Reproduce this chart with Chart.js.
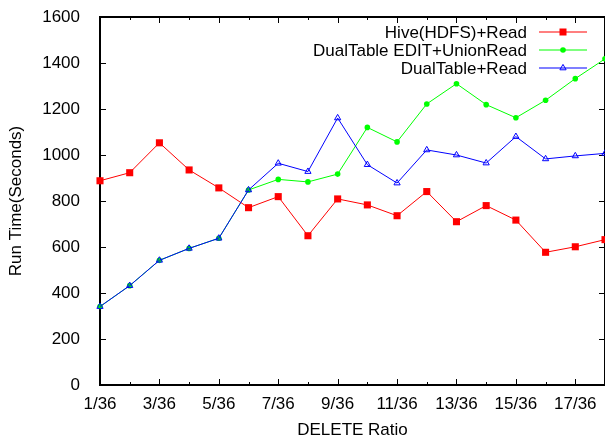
<!DOCTYPE html>
<html>
<head>
<meta charset="utf-8">
<script src="https://cdn.jsdelivr.net/npm/chart.js@4.4.1/dist/chart.umd.min.js"></script>
<style>
  html, body { margin: 0; padding: 0; background: #fff; overflow: hidden; }
  #wrap { width: 610px; height: 439px; }
</style>
</head>
<body>
<div id="wrap"><canvas id="chart" width="610" height="439"></canvas></div>
<script>
// data
const ratios = ['1/36', '2/36', '3/36', '4/36', '5/36', '6/36', '7/36', '8/36', '9/36',
                '10/36', '11/36', '12/36', '13/36', '14/36', '15/36', '16/36', '17/36', '18/36'];
const hiveRead = [888, 923, 1053, 935, 857, 771, 819, 649, 809, 783, 736, 841, 710, 780, 717, 577, 601, 632];
const editUnionRead = [341, 432, 542, 594, 638, 848, 894, 883, 917, 1120, 1057, 1222, 1310, 1219, 1162, 1238, 1332, 1418];
const dualTableRead = [341, 432, 542, 594, 638, 848, 964, 928, 1161, 958, 878, 1022, 1000, 965, 1080, 983, 996, 1007];
const seriesNames = ['Hive(HDFS)+Read', 'DualTable EDIT+UnionRead', 'DualTable+Read'];

const FONT = 'Liberation Sans, Arial, Helvetica, sans-serif';

// frame + inward ticks like gnuplot
const framePlugin = {
    id: 'frame',
    beforeDatasetsDraw(chart) {
        const { ctx, chartArea: a, scales } = chart;
        ctx.save();
        ctx.strokeStyle = '#000';
        ctx.lineWidth = 1;
        ctx.beginPath();
        scales.y.ticks.forEach(t => {
            const y = Math.round(scales.y.getPixelForValue(t.value)) + 0.5;
            ctx.moveTo(a.left, y); ctx.lineTo(a.left + 6, y);
            ctx.moveTo(a.right, y); ctx.lineTo(a.right - 6, y);
        });
        ratios.forEach((r, i) => {
            const x = Math.round(scales.x.getPixelForValue(i)) + 0.5;
            const len = i % 2 === 0 ? 6 : 3;
            ctx.moveTo(x, a.bottom); ctx.lineTo(x, a.bottom - len);
            ctx.moveTo(x, a.top); ctx.lineTo(x, a.top + len);
        });
        ctx.stroke();
        ctx.lineWidth = 2;
        ctx.strokeRect(a.left, a.top, a.right - a.left, a.bottom - a.top);
        ctx.restore();
    }
};

function drawMarker(ctx, style, x, y, color) {
    ctx.strokeStyle = color;
    ctx.fillStyle = color;
    ctx.lineWidth = 1;
    ctx.beginPath();
    if (style === 'rect') {
        ctx.fillRect(x - 3.5, y - 3.5, 7, 7);
    } else if (style === 'circle') {
        ctx.arc(x, y, 2.8, 0, Math.PI * 2);
        ctx.fill();
    } else {
        const r = 3.6;
        ctx.moveTo(x, y - r);
        ctx.lineTo(x + r * 0.866, y + r * 0.5);
        ctx.lineTo(x - r * 0.866, y + r * 0.5);
        ctx.closePath();
        ctx.stroke();
    }
}

const legendPlugin = {
    id: 'keyBox',
    afterDraw(chart) {
        const { ctx } = chart;
        const styles = ['rect', 'circle', 'triangle'];
        const colors = ['#ff0000', '#00ff00', '#0000ff'];
        ctx.save();
        ctx.font = '17px ' + FONT;
        ctx.textAlign = 'right';
        ctx.textBaseline = 'middle';
        seriesNames.forEach((name, i) => {
            const y = 32 + i * 18;
            ctx.fillStyle = '#000';
            ctx.fillText(name, 527, y + 1);
            ctx.strokeStyle = colors[i];
            ctx.lineWidth = 1.2;
            ctx.beginPath();
            ctx.moveTo(539, y); ctx.lineTo(587, y);
            ctx.stroke();
            drawMarker(ctx, styles[i], 563, y, colors[i]);
        });
        ctx.restore();
    }
};

new Chart(document.getElementById('chart'), {
    type: 'line',
    data: {
        labels: ratios,
        datasets: [
            {
                label: seriesNames[0], data: hiveRead, order: 1,
                borderColor: '#ff0000', backgroundColor: '#ff0000', borderWidth: 1,
                pointStyle: 'rect', pointRadius: 5, pointBorderWidth: 0,
                tension: 0, clip: false
            },
            {
                label: seriesNames[1], data: editUnionRead, order: 2,
                borderColor: '#00ff00', backgroundColor: '#00ff00', borderWidth: 1,
                pointStyle: 'circle', pointRadius: 2.8, pointBorderWidth: 0,
                tension: 0, clip: false
            },
            {
                label: seriesNames[2], data: dualTableRead, order: 0,
                borderColor: '#0000ff', backgroundColor: 'rgba(0,0,0,0)', borderWidth: 1,
                pointStyle: 'triangle', pointRadius: 3.6, pointBorderWidth: 1,
                pointBorderColor: '#0000ff', tension: 0, clip: false
            }
        ]
    },
    options: {
        responsive: false,
        animation: false,
        devicePixelRatio: 1,
        layout: { padding: { top: 17, right: 3, left: 0, bottom: 0 } },
        plugins: { legend: { display: false }, tooltip: { enabled: false } },
        scales: {
            x: {
                type: 'category',
                grid: { display: false },
                border: { display: false },
                ticks: {
                    autoSkip: false, maxRotation: 0, padding: 1, color: '#000',
                    font: { family: FONT, size: 17 },
                    callback: (v, i) => i % 2 === 0 ? ratios[i] : ''
                },
                title: {
                    display: true, text: 'DELETE Ratio', color: '#000',
                    font: { family: FONT, size: 17 }, padding: { top: 0, bottom: -2 }
                },
                afterFit: s => { s.height = 54; s.paddingLeft = 0; s.paddingRight = 0; }
            },
            y: {
                min: 0, max: 1600,
                grid: { display: false },
                border: { display: false },
                ticks: {
                    stepSize: 200, padding: 12, color: '#000',
                    font: { family: FONT, size: 17 },
                    callback: v => String(v)
                },
                title: {
                    display: true, text: 'Run Time(Seconds)', color: '#000',
                    font: { family: FONT, size: 17 }, padding: { top: 6, bottom: 0 }
                },
                afterFit: s => { s.width = 100; s.paddingTop = 0; s.paddingBottom = 0; }
            }
        }
    },
    plugins: [framePlugin, legendPlugin]
});
</script>
</body>
</html>
